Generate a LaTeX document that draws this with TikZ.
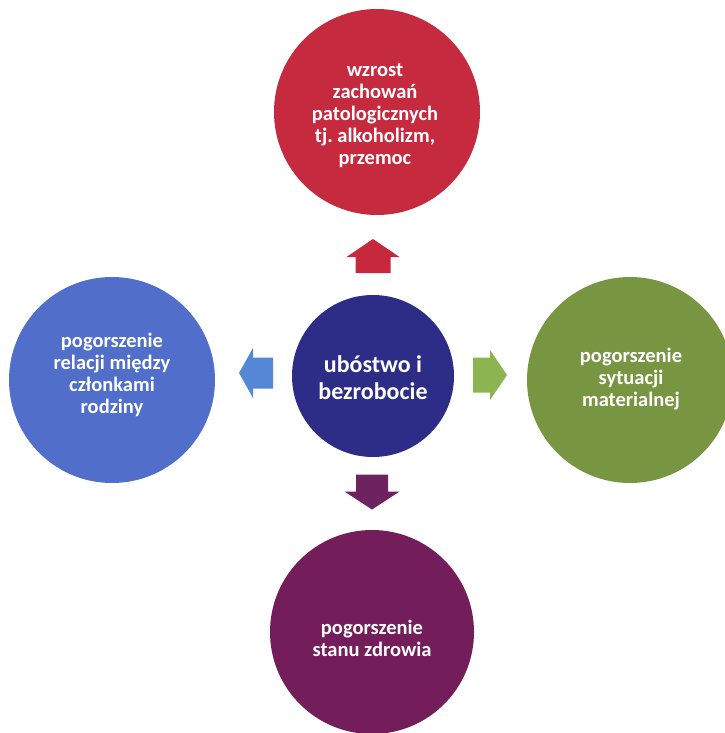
\documentclass[tikz,border=0pt]{standalone}
\usepackage{fontspec}
\setmainfont{Carlito}
\frenchspacing
\definecolor{cRed}{HTML}{C62A3E}
\definecolor{cBlue}{HTML}{506ECA}
\definecolor{cCenter}{HTML}{2D2D87}
\definecolor{cGreen}{HTML}{789641}
\definecolor{cPurple}{HTML}{731E5A}
\definecolor{aRed}{HTML}{C8283C}
\definecolor{aBlue}{HTML}{5587D7}
\definecolor{aGreen}{HTML}{8CB450}
\definecolor{aPurple}{HTML}{6E235F}
\tikzset{
  bubble/.style={circle, inner sep=0pt, text=white, align=center,
    font=\fontsize{20.5}{22}\selectfont\bfseries},
  bigbubble/.style={bubble, font=\fontsize{24}{27}\selectfont\bfseries},
}
% position, rotation, colour, length, head length, head width, shaft width
\newcommand{\blockarrow}[7]{%
  \fill[#3, shift={#1}, rotate=#2]
    ({-#4/2},{-#7/2}) -- ({#4/2-#5},{-#7/2}) -- ({#4/2-#5},{-#6/2}) -- ({#4/2},0)
    -- ({#4/2-#5},{#6/2}) -- ({#4/2-#5},{#7/2}) -- ({-#4/2},{#7/2}) -- cycle;}
\begin{document}
\begin{tikzpicture}[x=1pt,y=-1pt]
\useasboundingbox (0,0) rectangle (724,733);
\node[bubble, fill=cRed, minimum size=206] (top) at (377,112) {};
\node[bubble] (toptext) at (375,116) {wzrost\\zachowań\\patologicznych\\tj. alkoholizm,\\przemoc};
\node[bubble, fill=cBlue, minimum size=206] (left) at (112,380) {};
\node[bubble] (lefttext) at (112,375) {pogorszenie\\relacji między\\członkami\\rodziny};
\node[bubble, fill=cCenter, minimum size=162] (mid) at (373,376) {};
\node[bigbubble] (midtext) at (373,378) {ubóstwo i\\bezrobocie};
\node[bubble, fill=cGreen, minimum size=206] (right) at (630,380) {};
\node[bubble] (righttext) at (631,379) {pogorszenie\\sytuacji\\materialnej};
\node[bubble, fill=cPurple, minimum size=204] (bottom) at (372,632) {};
\node[bubble] (bottomtext) at (372,638) {pogorszenie\\stanu zdrowia};
\coordinate (aup) at (373,256);
\coordinate (adown) at (372,492);
\coordinate (aleft) at (256,373);
\coordinate (aright) at (490,375);
\blockarrow{(aup)}{90}{aRed}{34}{18}{53}{35}
\blockarrow{(adown)}{-90}{aPurple}{35}{18}{55}{32}
\blockarrow{(aleft)}{180}{aBlue}{34}{14}{50}{31}
\blockarrow{(aright)}{0}{aGreen}{34}{17}{50}{35}
\end{tikzpicture}
\end{document}
